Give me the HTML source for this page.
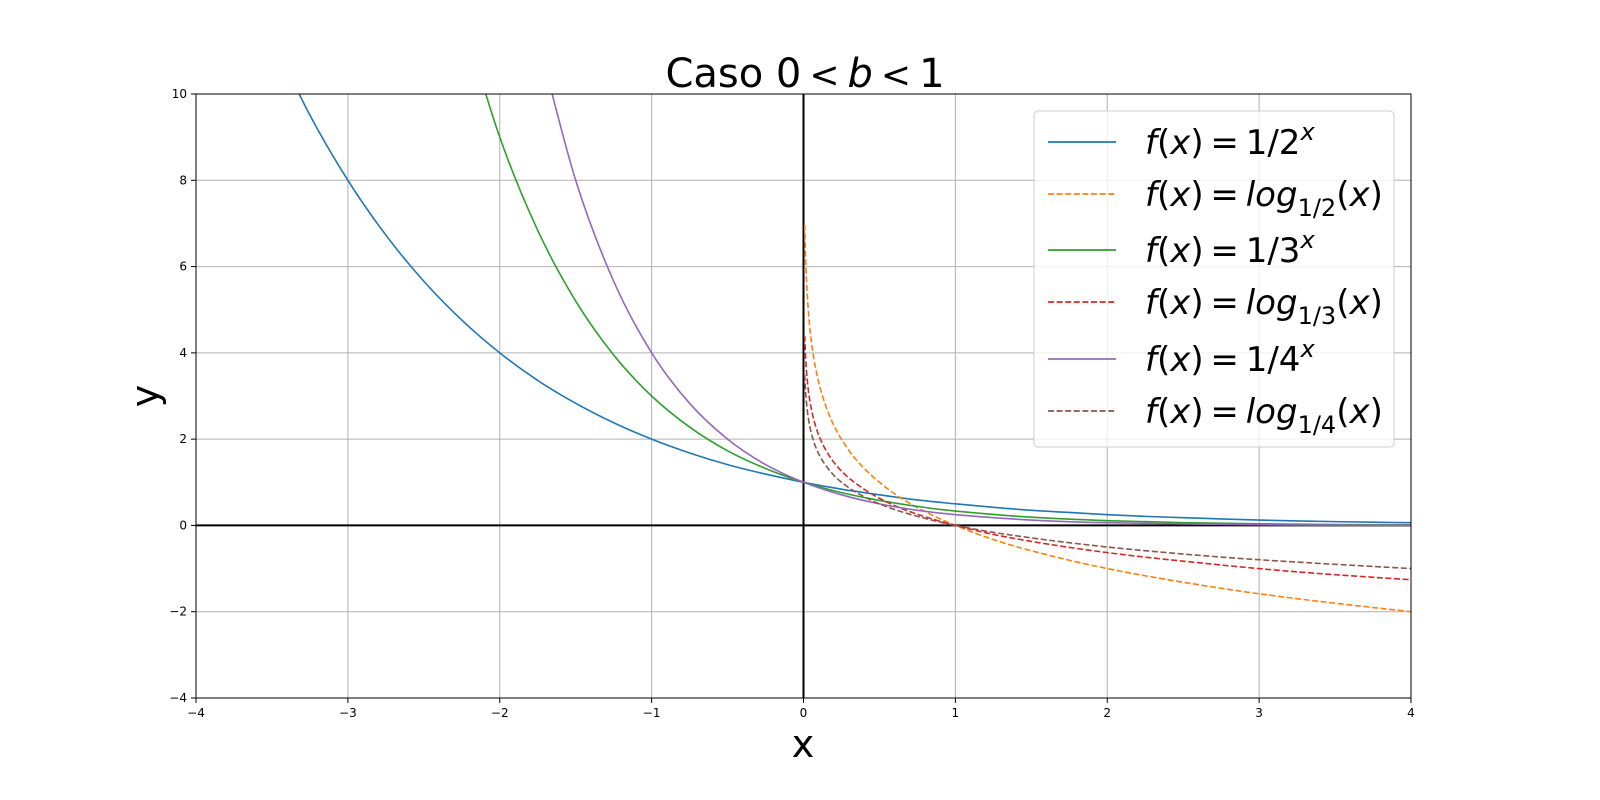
<!DOCTYPE html>
<html><head><meta charset="utf-8"><style>
html,body{margin:0;background:#fff;overflow:hidden;}
svg{display:block;}
svg text{font-family:"DejaVu Sans","Liberation Sans",sans-serif;}
</style></head><body>
<svg id="chart" width="1600" height="800" xmlns="http://www.w3.org/2000/svg">
<defs><clipPath id="clip"><rect x="196" y="94" width="1215" height="604"/></clipPath></defs>
<rect width="1600" height="800" fill="#fff"/>
<g id="grid"></g>
<g id="ticks"></g>
<g id="series" clip-path="url(#clip)"></g>
<rect x="196" y="94" width="1215" height="604" fill="none" stroke="#000" stroke-width="1"/>
<text x="805" y="87" font-size="40" text-anchor="middle">Caso 0&#8201;<tspan font-size="36">&lt;</tspan>&#8201;<tspan font-style="italic">b</tspan>&#8201;<tspan font-size="36">&lt;</tspan>&#8201;1</text>
<text x="803" y="757" font-size="38" text-anchor="middle">x</text>
<text x="158" y="396" font-size="38" text-anchor="middle" transform="rotate(-90 158 396)">y</text>
<g id="legend">
<rect x="1034" y="111" width="360" height="336" rx="4" fill="#fff" fill-opacity="0.8" stroke="#ccc"/>
</g>
</svg>
<script>
const xTicks=[-4,-3,-2,-1,0,1,2,3,4];
const yTicks=[-4,-2,0,2,4,6,8,10];
const expX1=[-3.5,-3.25,-3,-2.75,-2.5,-2.25,-2,-1.75,-1.5,-1.25,-1,-0.75,-0.5,-0.25,0,0.25,0.5,0.75,1,1.25,1.5,1.75,2,2.25,2.5,2.75,3,3.25,3.5,3.75,4];
const expY1=[11.31,9.51,8,6.73,5.66,4.76,4,3.36,2.83,2.38,2,1.68,1.41,1.19,1,0.84,0.71,0.59,0.5,0.42,0.35,0.30,0.25,0.21,0.18,0.15,0.125,0.105,0.088,0.074,0.0625];
const expX3=[-2.25,-2,-1.75,-1.5,-1.25,-1,-0.75,-0.5,-0.25,0,0.25,0.5,0.75,1,1.5,2,2.5,3,3.5,4];
const expY3=[11.84,9,6.84,5.20,3.95,3,2.28,1.73,1.32,1,0.76,0.58,0.44,0.333,0.19,0.111,0.064,0.037,0.021,0.012];
const expX4=[-1.75,-1.5,-1.25,-1,-0.75,-0.5,-0.25,0,0.25,0.5,0.75,1,1.5,2,3,4];
const expY4=[11.31,8,5.66,4,2.83,2,1.41,1,0.71,0.5,0.35,0.25,0.125,0.0625,0.016,0.004];
const logX=[0.008,0.015,0.03,0.05,0.08,0.12,0.18,0.25,0.35,0.5,0.7,1,1.4,2,2.7,3.3,4];
const logY2=[6.97,6.06,5.06,4.32,3.64,3.06,2.47,2,1.51,1,0.51,0,-0.49,-1,-1.43,-1.72,-2];
const logY3=[4.40,3.82,3.19,2.73,2.30,1.93,1.56,1.26,0.96,0.63,0.32,0,-0.31,-0.63,-0.90,-1.09,-1.26];
const logY4=[3.49,3.03,2.53,2.16,1.82,1.53,1.24,1,0.76,0.5,0.26,0,-0.24,-0.5,-0.72,-0.86,-1];
const legendLabels=[["1/2","x",""],["log","1/2","(x)"],["1/3","x",""],["log","1/3","(x)"],["1/4","x",""],["log","1/4","(x)"]];

const NS="http://www.w3.org/2000/svg";
const X0=196,X1=1411,Y0=698,Y1=94;
const sx=v=>X0+(v+4)/8*(X1-X0);
const sy=v=>Y0-(v+4)/14*(Y0-Y1);
function mk(t,a,p){const e=document.createElementNS(NS,t);for(const k in a)e.setAttribute(k,a[k]);p.appendChild(e);return e;}
function ts(p,txt,a){const e=document.createElementNS(NS,'tspan');for(const k in a)e.setAttribute(k,a[k]);e.textContent=txt;p.appendChild(e);return e;}
const grid=document.getElementById('grid'),ticks=document.getElementById('ticks');
xTicks.forEach(v=>{
 const l=mk('line',{x1:sx(v),x2:sx(v),y1:Y1,y2:Y0,stroke:'#b0b0b0','stroke-width':1},grid);
 
 const tk=mk('line',{x1:sx(v),x2:sx(v),y1:Y0,y2:Y0+5,stroke:'#000'},ticks);
 
 const t=mk('text',{x:sx(v),y:Y0+19,'font-size':12,'text-anchor':'middle'},ticks);
 t.textContent=(v<0?'\u2212'+(-v):v);
 
});
yTicks.forEach(v=>{
 const l=mk('line',{x1:X0,x2:X1,y1:sy(v),y2:sy(v),stroke:'#b0b0b0','stroke-width':1},grid);
 
 const tk=mk('line',{x1:X0-5,x2:X0,y1:sy(v),y2:sy(v),stroke:'#000'},ticks);
 
 const t=mk('text',{x:X0-9,y:sy(v)+4,'font-size':12,'text-anchor':'end'},ticks);
 t.textContent=(v<0?'\u2212'+(-v):v);
 
});
const ax1=mk('line',{x1:sx(0),x2:sx(0),y1:Y1,y2:Y0,stroke:'#000','stroke-width':2},grid);

const ax2=mk('line',{x1:X0,x2:X1,y1:sy(0),y2:sy(0),stroke:'#000','stroke-width':2},grid);


function pathD(xs,ys){
 const p=xs.map((x,i)=>[sx(x),sy(ys[i])]);
 let d='M'+p[0][0]+','+p[0][1];
 for(let i=0;i<p.length-1;i++){
  const a=p[Math.max(i-1,0)],b=p[i],c=p[i+1],e=p[Math.min(i+2,p.length-1)];
  const c1=[b[0]+(c[0]-a[0])/6,b[1]+(c[1]-a[1])/6],c2=[c[0]-(e[0]-b[0])/6,c[1]-(e[1]-b[1])/6];
  d+=' C'+c1+' '+c2+' '+c;
 }
 return d;
}
const series=document.getElementById('series');
const defs=[[expX1,expY1,'#1f77b4',0,'exp-half-line'],[logX,logY2,'#ff7f0e',1,'log-half-line'],[expX3,expY3,'#2ca02c',0,'exp-third-line'],[logX,logY3,'#d62728',1,'log-third-line'],[expX4,expY4,'#9467bd',0,'exp-quarter-line'],[logX,logY4,'#8c564b',1,'log-quarter-line']];
defs.forEach(s=>{
 const e=mk('path',{d:pathD(s[0],s[1]),fill:'none',stroke:s[2],'stroke-width':1.6,'stroke-dasharray':s[3]?'6,2.6':'none'},series);
 
});
const lg=document.getElementById('legend');
const ly=[142,194,250,302,359,411];
legendLabels.forEach((L,i)=>{
 const s=defs[i];
 const l=mk('line',{x1:1048,x2:1116,y1:ly[i],y2:ly[i],stroke:s[2],'stroke-width':1.8,'stroke-dasharray':s[3]?'6,2.6':'none'},lg);
 
 const t=mk('text',{x:1145,y:ly[i]+12,'font-size':34},lg);
 
 ts(t,'f',{'font-style':'italic'});ts(t,'(',{});ts(t,'x',{'font-style':'italic'});ts(t,')\u2009=\u2009',{});
 if(L[2]===''){
  ts(t,L[0],{});ts(t,L[1],{'font-style':'italic','font-size':24,dy:-14});
 } else {
  ts(t,L[0],{'font-style':'italic'});ts(t,L[1],{'font-size':24,dy:10});
  ts(t,'(',{dy:-10});ts(t,'x',{'font-style':'italic'});ts(t,')',{});
 }
});
</script>
</body></html>
